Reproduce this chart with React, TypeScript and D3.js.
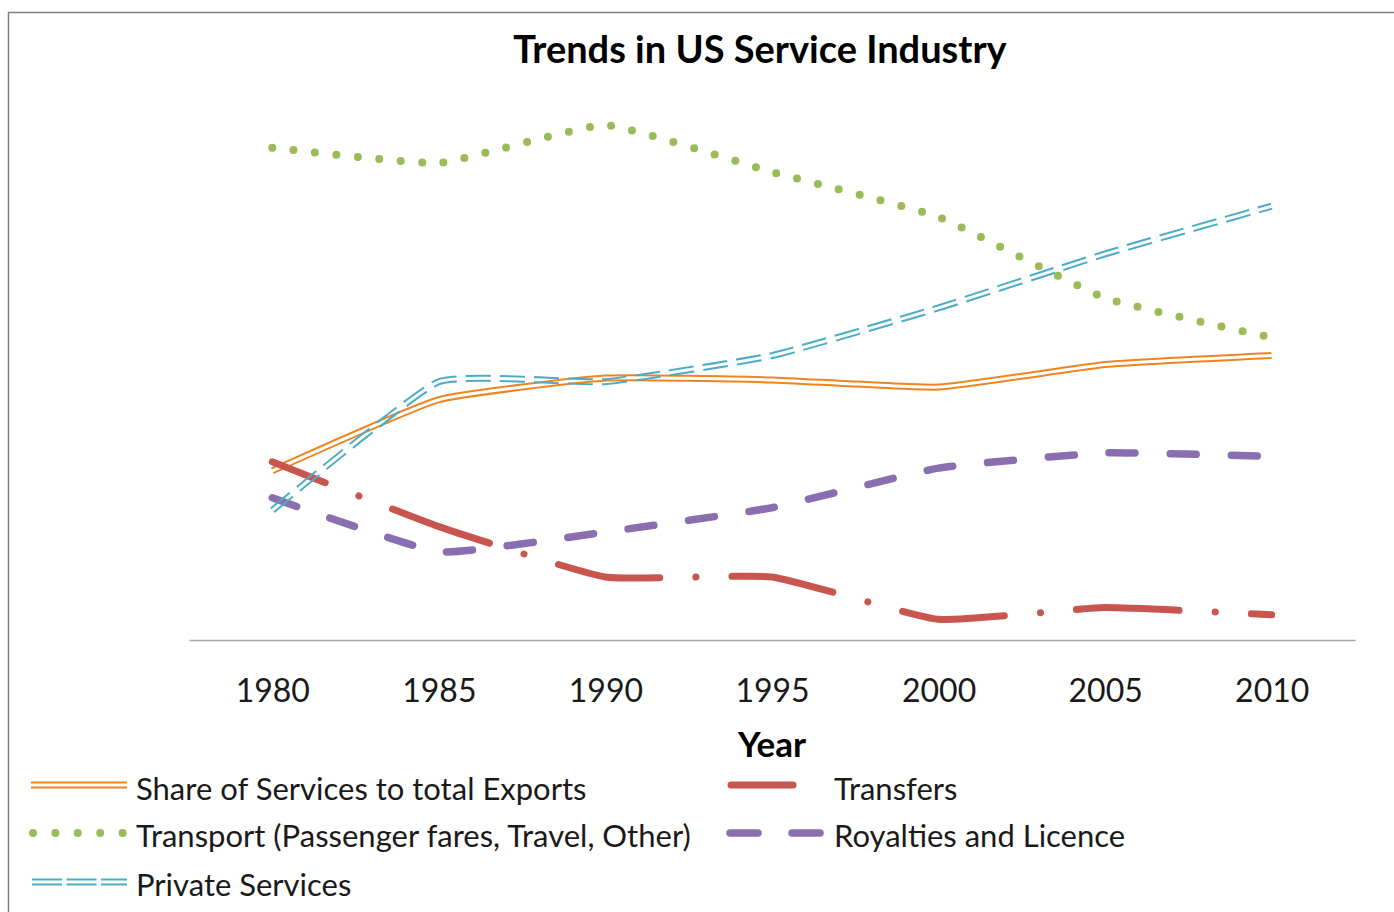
import React, { useEffect, useRef } from 'react';
import * as d3 from 'd3';

const years = ['1980', '1985', '1990', '1995', '2000', '2005', '2010'];
const shareExports = [18.8, 26.7, 29.1, 28.9, 28.1, 30.6, 31.6];
const transport = [54.7, 53.0, 57.2, 52.0, 47.0, 38.0, 33.6];
const privateServices = [14.4, 28.7, 28.7, 31.6, 36.9, 42.9, 48.2];
const transfers = [19.8, 12.6, 7.0, 7.0, 2.3, 3.6, 2.8];
const royalties = [15.8, 9.8, 12.0, 14.7, 19.1, 20.8, 20.4];

const W = 1394;
const H = 912;
const FONT = 'Lato, "Open Sans", sans-serif';

const App: React.FC = () => {
  const svgRef = useRef<SVGSVGElement | null>(null);

  useEffect(() => {
    if (!svgRef.current) return;
    const svg = d3.select(svgRef.current);
    svg.selectAll('*').remove();

    const x = d3.scalePoint<string>().domain(years).range([189, 1355]).padding(0.5);
    const y = d3.scaleLinear().domain([0, 60]).range([640, 100]);

    // frame
    svg.append('rect')
      .attr('x', 8.5).attr('y', 12.5)
      .attr('width', W).attr('height', H)
      .attr('fill', 'white')
      .attr('stroke', '#7f7f7f')
      .attr('stroke-width', 1.5);

    svg.append('text')
      .attr('x', 760).attr('y', 63)
      .attr('text-anchor', 'middle')
      .attr('font-family', FONT)
      .attr('font-weight', 700)
      .attr('font-size', 38)
      .text('Trends in US Service Industry');

    // axis
    const axis = svg.append('g')
      .attr('transform', 'translate(0,640)')
      .call(d3.axisBottom(x).tickSize(0).tickPadding(39));
    axis.select('.domain').attr('stroke', '#a6a6a6').attr('stroke-width', 1.5);
    axis.selectAll('text')
      .attr('font-family', FONT)
      .attr('font-size', 32)
      .attr('fill', '#1a1a1a');

    svg.append('text')
      .attr('x', 772).attr('y', 757)
      .attr('text-anchor', 'middle')
      .attr('font-family', FONT)
      .attr('font-weight', 700)
      .attr('font-size', 35)
      .text('Year');

    const line = d3.line<number>()
      .x((_, i) => x(years[i]) as number)
      .y((d) => y(d))
      .curve(d3.curveCardinal.tension(0.6));

    const defs = svg.append('defs');

    const doubleLine = (id: string, values: number[], color: string, dash?: string) => {
      const m = defs.append('mask')
        .attr('id', id)
        .attr('maskUnits', 'userSpaceOnUse')
        .attr('x', 0).attr('y', 0).attr('width', W).attr('height', H);
      m.append('path').attr('d', line(values)).attr('fill', 'none')
        .attr('stroke', 'white').attr('stroke-width', 9);
      m.append('path').attr('d', line(values)).attr('fill', 'none')
        .attr('stroke', 'black').attr('stroke-width', 3);
      svg.append('path')
        .attr('d', line(values))
        .attr('fill', 'none')
        .attr('stroke', color)
        .attr('stroke-width', 7)
        .attr('stroke-dasharray', dash || null)
        .attr('mask', `url(#${id})`);
    };

    // Share of services
    doubleLine('m-share', shareExports, '#f0841e');

    // Transfers
    svg.append('path')
      .attr('d', line(transfers))
      .attr('fill', 'none')
      .attr('stroke', '#c9554f')
      .attr('stroke-width', 7)
      .attr('stroke-linecap', 'round')
      .attr('stroke-dasharray', '103 36 0.1 36')
      .attr('stroke-dashoffset', 46);

    // Transport
    svg.append('path')
      .attr('d', line(transport))
      .attr('fill', 'none')
      .attr('stroke', '#9bbb59')
      .attr('stroke-width', 8)
      .attr('stroke-linecap', 'round')
      .attr('stroke-dasharray', '0 21.5');

    // Royalties
    svg.append('path')
      .attr('d', line(royalties))
      .attr('fill', 'none')
      .attr('stroke', '#8a6fb0')
      .attr('stroke-width', 7.5)
      .attr('stroke-linecap', 'round')
      .attr('stroke-dasharray', '26 35');

    // Private services
    doubleLine('m-private', privateServices, '#4bacc6', '25 9');

    // legend
    const lg = svg.append('g');
    const legText = (tx: number, ty: number, s: string) =>
      lg.append('text')
        .attr('x', tx).attr('y', ty)
        .attr('font-family', FONT)
        .attr('font-size', 31)
        .attr('fill', '#1a1a1a')
        .text(s);

    // share
    [-2.5, 2.5].forEach((o) =>
      lg.append('line').attr('x1', 31).attr('x2', 127)
        .attr('y1', 785 + o).attr('y2', 785 + o)
        .attr('stroke', '#f0841e').attr('stroke-width', 2));
    legText(136, 800, 'Share of Services to total Exports');

    // transport
    lg.append('line').attr('x1', 33).attr('x2', 123)
      .attr('y1', 833).attr('y2', 833)
      .attr('stroke', '#9bbb59').attr('stroke-width', 8)
      .attr('stroke-linecap', 'round').attr('stroke-dasharray', '0 22.4');
    legText(136, 847, 'Transport (Passenger fares, Travel, Other)');

    // private
    [-2.5, 2.5].forEach((o) =>
      lg.append('line').attr('x1', 32).attr('x2', 127)
        .attr('y1', 882 + o).attr('y2', 882 + o)
        .attr('stroke', '#4bacc6').attr('stroke-width', 2)
        .attr('stroke-dasharray', '30 4.5'));
    legText(136, 896, 'Private Services');

    // transfers
    lg.append('line').attr('x1', 731).attr('x2', 793)
      .attr('y1', 785).attr('y2', 785)
      .attr('stroke', '#c9554f').attr('stroke-width', 7)
      .attr('stroke-linecap', 'round');
    legText(834, 800, 'Transfers');

    // royalties
    lg.append('line').attr('x1', 730).attr('x2', 820)
      .attr('y1', 833).attr('y2', 833)
      .attr('stroke', '#8a6fb0').attr('stroke-width', 7.5)
      .attr('stroke-linecap', 'round').attr('stroke-dasharray', '28 34');
    legText(834, 847, 'Royalties and Licence');
  }, []);

  return (
    <svg
      ref={svgRef}
      width={W}
      height={H}
      style={{ position: 'absolute', left: 0, top: 0, background: 'white' }}
    />
  );
};

export default App;
